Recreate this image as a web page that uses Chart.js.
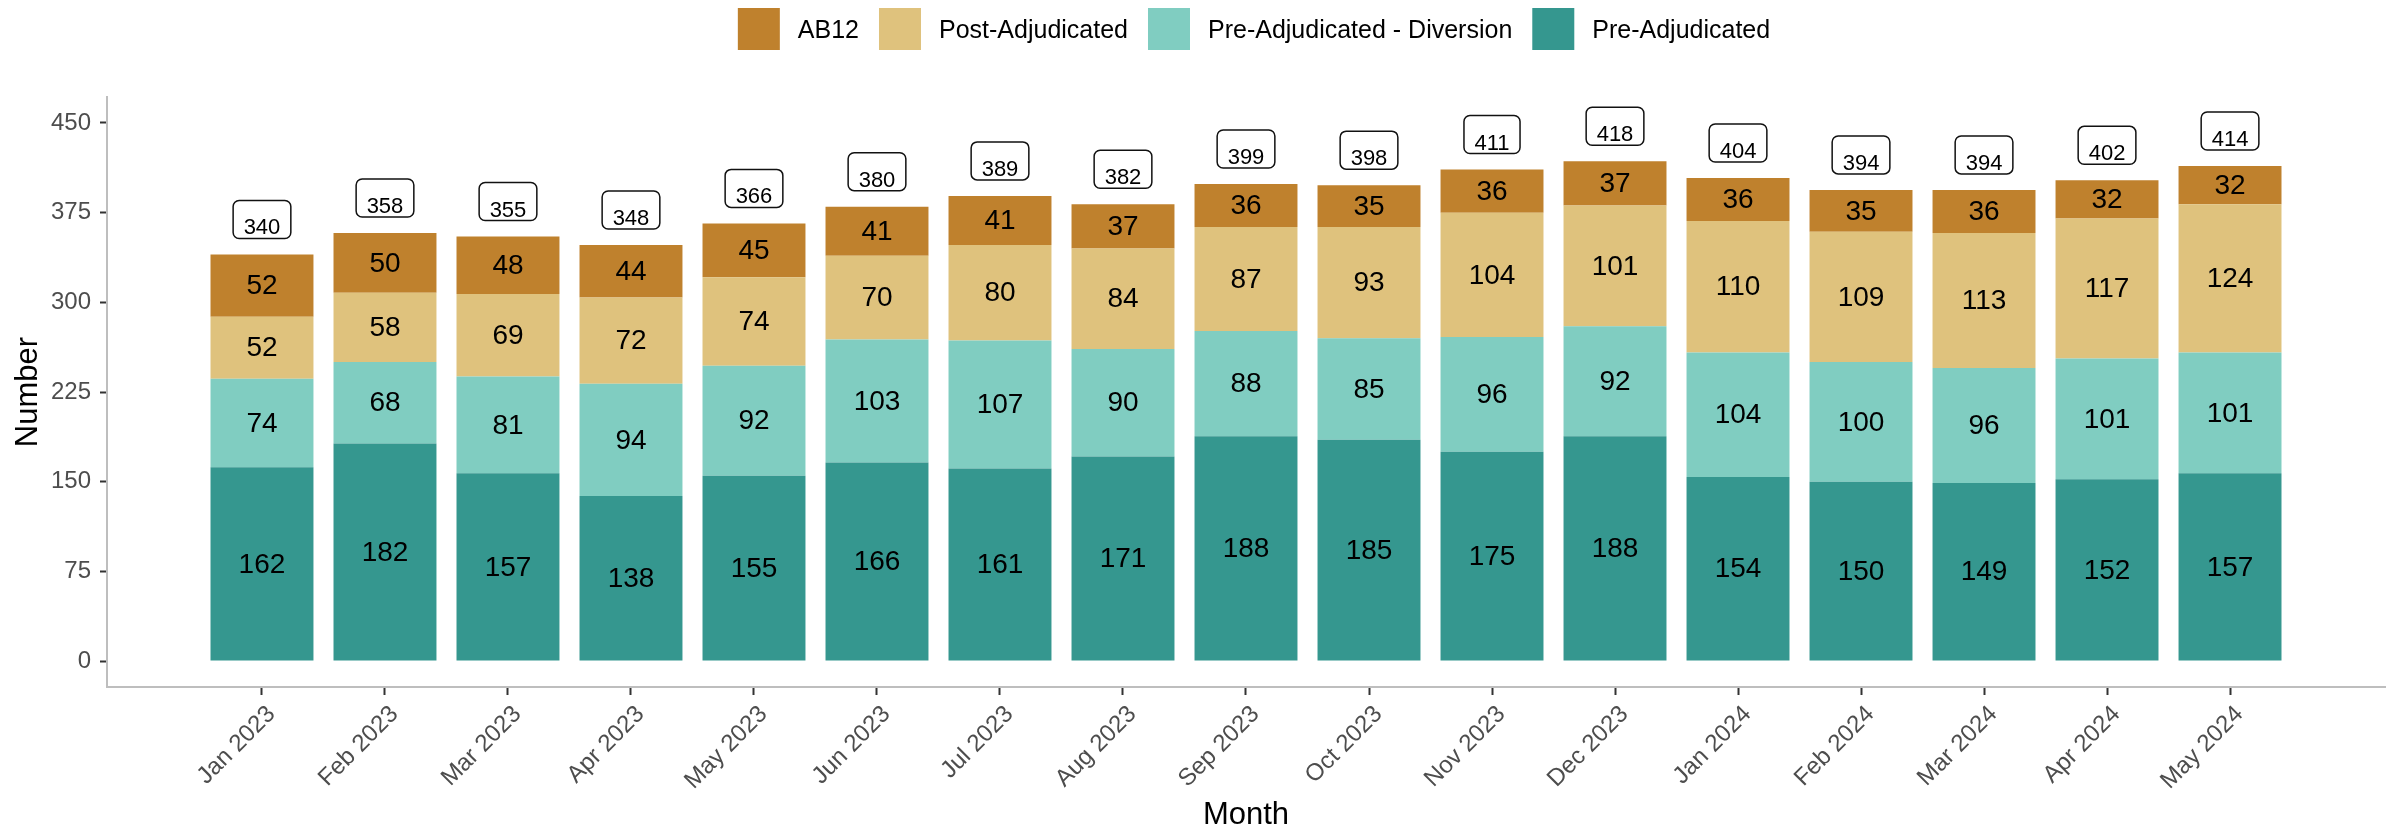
<!DOCTYPE html>
<html>
<head>
<meta charset="utf-8">
<script src="https://cdn.jsdelivr.net/npm/chart.js@4"></script>
<style>
  html, body { margin: 0; padding: 0; background: #fff; }
  #wrap { width: 2407px; height: 831px; }
</style>
</head>
<body>
<div id="wrap"><canvas id="chart"></canvas></div>
<script>
const months = ['Jan 2023', 'Feb 2023', 'Mar 2023', 'Apr 2023', 'May 2023', 'Jun 2023', 'Jul 2023', 'Aug 2023',
  'Sep 2023', 'Oct 2023', 'Nov 2023', 'Dec 2023', 'Jan 2024', 'Feb 2024', 'Mar 2024', 'Apr 2024', 'May 2024'];
const preAdjudicated = [162, 182, 157, 138, 155, 166, 161, 171, 188, 185, 175, 188, 154, 150, 149, 152, 157];
const preDiversion = [74, 68, 81, 94, 92, 103, 107, 90, 88, 85, 96, 92, 104, 100, 96, 101, 101];
const postAdjudicated = [52, 58, 69, 72, 74, 70, 80, 84, 87, 93, 104, 101, 110, 109, 113, 117, 124];
const ab12 = [52, 50, 48, 44, 45, 41, 41, 37, 36, 35, 36, 37, 36, 35, 36, 32, 32];
const yTicks = [0, 75, 150, 225, 300, 375, 450];

const FONT = '"Liberation Sans", Arial, sans-serif';
const totals = months.map((m, i) => preAdjudicated[i] + preDiversion[i] + postAdjudicated[i] + ab12[i]);

function series(label, values, color) {
    return {
        label: label,
        data: values.map((v, i) => ({ x: i, y: v })),
        backgroundColor: color,
        borderWidth: 0,
        barPercentage: 0.837,
        categoryPercentage: 1
    };
}

// numbers in the middle of each segment
const segmentLabels = {
    id: 'segmentLabels',
    afterDatasetsDraw(chart) {
        const ctx = chart.ctx;
        ctx.save();
        ctx.font = '28px ' + FONT;
        ctx.fillStyle = '#000';
        ctx.textAlign = 'center';
        ctx.textBaseline = 'middle';
        chart.data.datasets.forEach((ds, di) => {
            chart.getDatasetMeta(di).data.forEach((bar, i) => {
                ctx.fillText(ds.data[i].y, bar.x, (bar.y + bar.base) / 2 + 1);
            });
        });
        ctx.restore();
    }
};

// boxed totals above each bar
const totalLabels = {
    id: 'totalLabels',
    afterDatasetsDraw(chart) {
        const { ctx, scales: { x, y } } = chart;
        ctx.save();
        ctx.font = '22px ' + FONT;
        ctx.textAlign = 'center';
        ctx.textBaseline = 'alphabetic';
        ctx.lineWidth = 1.5;
        ctx.strokeStyle = '#111';
        totals.forEach((t, i) => {
            const cx = x.getPixelForValue(i);
            const base = y.getPixelForValue(t) - 20;
            const w = ctx.measureText(String(t)).width + 21;
            ctx.beginPath();
            ctx.roundRect(cx - w / 2, base - 34, w, 38, 6);
            ctx.fillStyle = '#fff';
            ctx.fill();
            ctx.stroke();
            ctx.fillStyle = '#000';
            ctx.fillText(t, cx, base);
        });
        ctx.restore();
    }
};

// month labels, rotated 45deg with the top-right corner at the tick
const monthLabels = {
    id: 'monthLabels',
    afterDraw(chart) {
        const { ctx, scales: { x } } = chart;
        ctx.save();
        ctx.font = '24px ' + FONT;
        ctx.fillStyle = '#4D4D4D';
        ctx.textAlign = 'right';
        ctx.textBaseline = 'top';
        months.forEach((m, i) => {
            ctx.save();
            ctx.translate(x.getPixelForValue(i) + 1, x.top + 15);
            ctx.rotate(-Math.PI / 4);
            ctx.fillText(m, 0, 0);
            ctx.restore();
        });
        ctx.restore();
    }
};

// legend row on top, reversed order like the stack
const topLegend = {
    id: 'topLegend',
    afterDraw(chart) {
        const ctx = chart.ctx;
        const items = chart.data.datasets.slice().reverse();
        const key = 42, gap = 18, space = 20;
        ctx.save();
        ctx.font = '25px ' + FONT;
        const widths = items.map(d => key + gap + ctx.measureText(d.label).width);
        const total = widths.reduce((a, b) => a + b, 0) + space * (items.length - 1);
        let xPos = (chart.chartArea.left + chart.chartArea.right) / 2 + 8 - total / 2;
        ctx.textBaseline = 'middle';
        ctx.textAlign = 'left';
        items.forEach((d, i) => {
            ctx.fillStyle = d.backgroundColor;
            ctx.fillRect(xPos, 8, key, key);
            ctx.fillStyle = '#000';
            ctx.fillText(d.label, xPos + key + gap, 31);
            xPos += widths[i] + space;
        });
        ctx.restore();
    }
};

new Chart(document.getElementById('chart'), {
    type: 'bar',
    data: {
        datasets: [
            series('Pre-Adjudicated', preAdjudicated, '#35978F'),
            series('Pre-Adjudicated - Diversion', preDiversion, '#80CDC1'),
            series('Post-Adjudicated', postAdjudicated, '#DFC27D'),
            series('AB12', ab12, '#BF812D')
        ]
    },
    options: {
        responsive: true,
        maintainAspectRatio: false,
        animation: false,
        layout: { padding: { top: 97, right: 22, left: 0, bottom: 0 } },
        plugins: {
            legend: { display: false },
            tooltip: { enabled: false }
        },
        scales: {
            x: {
                type: 'linear',
                stacked: true,
                offset: false,
                min: -1.26,
                max: 17.26,
                afterFit(s) { s.height = 144; },
                afterBuildTicks(s) { s.ticks = months.map((m, i) => ({ value: i })); },
                ticks: { display: false },
                grid: { offset: false, drawOnChartArea: false, tickLength: 8, tickWidth: 2, tickColor: '#333' },
                border: { color: '#BEBEBE', width: 2 },
                title: {
                    display: true,
                    text: 'Month',
                    color: '#000',
                    font: { family: FONT, size: 31, lineHeight: 1 },
                    padding: { top: 0, bottom: 0 }
                }
            },
            y: {
                stacked: true,
                min: -21.7,
                max: 471.7,
                afterFit(s) { s.width = 107; },
                afterBuildTicks(s) { s.ticks = yTicks.map(v => ({ value: v })); },
                ticks: {
                    padding: 9,
                    color: '#4D4D4D',
                    font: { family: FONT, size: 24 }
                },
                grid: { drawOnChartArea: false, tickLength: 7, tickWidth: 2, tickColor: '#333' },
                border: { color: '#BEBEBE', width: 2 },
                title: {
                    display: true,
                    text: 'Number',
                    color: '#000',
                    font: { family: FONT, size: 31, lineHeight: 1 },
                    padding: { top: 13, bottom: 0 }
                }
            }
        }
    },
    plugins: [segmentLabels, totalLabels, monthLabels, topLegend]
});
</script>
</body>
</html>
